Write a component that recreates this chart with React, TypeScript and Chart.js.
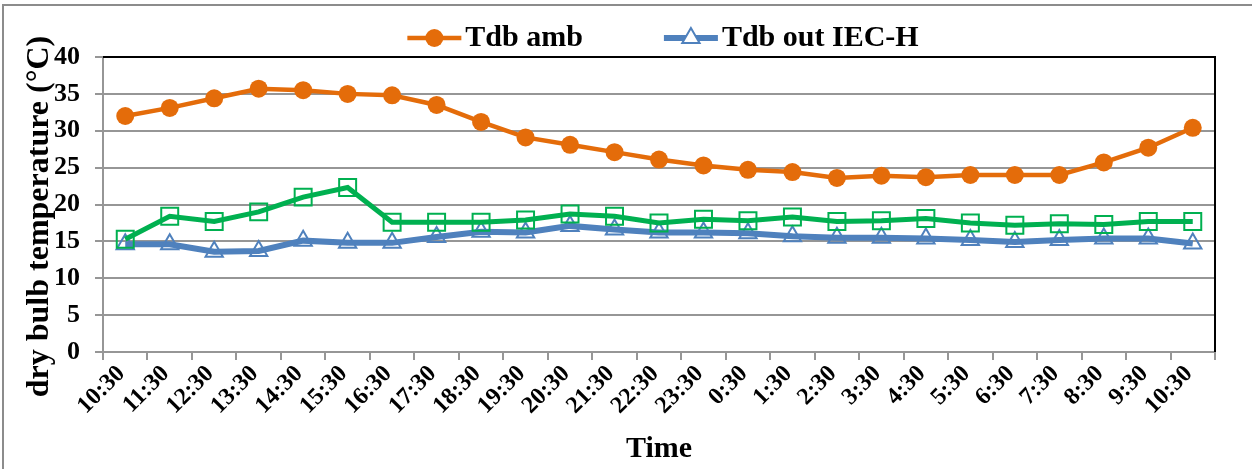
import React, { useEffect, useRef } from "react";
import { Chart, registerables } from "chart.js";

Chart.register(...registerables);

const timeLabels = [
  "10:30", "11:30", "12:30", "13:30", "14:30", "15:30", "16:30", "17:30", "18:30",
  "19:30", "20:30", "21:30", "22:30", "23:30", "0:30", "1:30", "2:30", "3:30",
  "4:30", "5:30", "6:30", "7:30", "8:30", "9:30", "10:30",
];

const tdbAmb = [
  32.0, 33.1, 34.4, 35.7, 35.5, 35.0, 34.8, 33.5, 31.2, 29.1, 28.1, 27.1, 26.1,
  25.3, 24.7, 24.4, 23.6, 23.9, 23.7, 24.0, 24.0, 24.0, 25.7, 27.7, 30.4,
];

const tdbOutGreen = [
  15.3, 18.4, 17.7, 19.0, 21.0, 22.3, 17.6, 17.6, 17.6, 17.9, 18.7, 18.4, 17.5,
  18.0, 17.8, 18.3, 17.7, 17.8, 18.1, 17.5, 17.2, 17.4, 17.3, 17.7, 17.7,
];

const tdbOutIecH = [
  14.6, 14.6, 13.6, 13.7, 15.1, 14.8, 14.8, 15.6, 16.3, 16.2, 17.1, 16.6, 16.2,
  16.2, 16.1, 15.7, 15.5, 15.5, 15.4, 15.2, 14.9, 15.2, 15.4, 15.4, 14.7,
];

const yTicks = [0, 5, 10, 15, 20, 25, 30, 35, 40];

const ORANGE = "#E46C0A";
const GREEN = "#00B050";
const BLUE = "#4F81BD";
const GRID = "#969696";
const SERIF = '"Liberation Serif", "Times New Roman", serif';

const framePlugin = {
  id: "frame",
  beforeDraw(chart: any) {
    const ctx = chart.ctx;
    ctx.save();
    ctx.fillStyle = "#ffffff";
    ctx.fillRect(0, 0, chart.width, chart.height);
    ctx.strokeStyle = "#8c8c8c";
    ctx.lineWidth = 2;
    ctx.beginPath();
    ctx.moveTo(3, chart.height);
    ctx.lineTo(3, 5);
    ctx.lineTo(chart.width, 5);
    ctx.stroke();
    ctx.restore();
  },
  afterDraw(chart: any) {
    const ctx = chart.ctx;
    const ca = chart.chartArea;
    ctx.save();
    ctx.strokeStyle = "#000000";
    ctx.lineWidth = 2;
    ctx.beginPath();
    ctx.moveTo(ca.left, ca.top);
    ctx.lineTo(ca.right, ca.top);
    ctx.lineTo(ca.right, ca.bottom);
    ctx.stroke();
    ctx.restore();
  },
};

const legendPlugin = {
  id: "lineMarkerLegend",
  afterDraw(chart: any) {
    const ctx = chart.ctx;
    const items = chart.data.datasets.filter((d: any) => d.showInLegend);
    ctx.save();
    ctx.font = `bold 30px ${SERIF}`;
    ctx.textBaseline = "middle";
    ctx.textAlign = "left";
    const lineLen = 54;
    const gapText = 4;
    const gapItems = 81;
    const widths = items.map((it: any) => ctx.measureText(it.label).width);
    const total =
      widths.reduce((a: number, w: number) => a + lineLen + gapText + w, 0) +
      gapItems * (items.length - 1);
    const ca = chart.chartArea;
    let x = (ca.left + ca.right) / 2 + 4 - total / 2;
    const y = 38;
    items.forEach((it: any, i: number) => {
      const cx = x + lineLen / 2;
      ctx.strokeStyle = it.borderColor;
      ctx.lineWidth = it.borderWidth;
      ctx.beginPath();
      ctx.moveTo(x, y);
      ctx.lineTo(x + lineLen, y);
      ctx.stroke();
      if (it.pointStyle === "circle") {
        ctx.fillStyle = it.borderColor;
        ctx.beginPath();
        ctx.arc(cx, y, it.pointRadius, 0, Math.PI * 2);
        ctx.fill();
      } else if (it.pointStyle === "triangle") {
        const r = it.pointRadius;
        ctx.lineWidth = it.pointBorderWidth;
        ctx.fillStyle = "#ffffff";
        ctx.beginPath();
        ctx.moveTo(cx, y - r);
        ctx.lineTo(cx + r * Math.sin((2 * Math.PI) / 3), y + r / 2);
        ctx.lineTo(cx - r * Math.sin((2 * Math.PI) / 3), y + r / 2);
        ctx.closePath();
        ctx.fill();
        ctx.stroke();
      }
      ctx.fillStyle = "#000000";
      ctx.fillText(it.label, x + lineLen + gapText, y);
      x += lineLen + gapText + widths[i] + gapItems;
    });
    ctx.restore();
  },
};

export default function App() {
  const canvasRef = useRef<HTMLCanvasElement | null>(null);

  useEffect(() => {
    if (!canvasRef.current) return;
    const chart = new Chart(canvasRef.current, {
      type: "line",
      data: {
        labels: timeLabels,
        datasets: [
          {
            label: "Tdb amb",
            data: tdbAmb,
            borderColor: ORANGE,
            backgroundColor: ORANGE,
            borderWidth: 4.5,
            pointStyle: "circle",
            pointRadius: 9,
            pointBackgroundColor: ORANGE,
            pointBorderColor: ORANGE,
            pointBorderWidth: 0,
            tension: 0,
            showInLegend: true,
          } as any,
          {
            label: "Tdb out",
            data: tdbOutGreen,
            borderColor: GREEN,
            backgroundColor: GREEN,
            borderWidth: 5,
            pointStyle: "rect",
            pointRadius: 12,
            pointBackgroundColor: "rgba(255,255,255,0)",
            pointBorderColor: GREEN,
            pointBorderWidth: 2,
            tension: 0,
            showInLegend: false,
          } as any,
          {
            label: "Tdb out IEC-H",
            data: tdbOutIecH,
            borderColor: BLUE,
            backgroundColor: BLUE,
            borderWidth: 6,
            pointStyle: "triangle",
            pointRadius: 10,
            pointBackgroundColor: "rgba(255,255,255,0)",
            pointBorderColor: BLUE,
            pointBorderWidth: 2,
            tension: 0,
            showInLegend: true,
          } as any,
        ],
      },
      options: {
        animation: false,
        responsive: true,
        maintainAspectRatio: false,
        layout: { padding: { top: 57, right: 37, bottom: 0, left: 0 } },
        plugins: {
          legend: { display: false },
          tooltip: { enabled: false },
        },
        scales: {
          x: {
            type: "category",
            offset: true,
            afterFit: (scale: any) => {
              scale.height = 117;
            },
            grid: {
              display: true,
              drawOnChartArea: false,
              offset: true,
              tickLength: 8,
              color: GRID,
              lineWidth: 2,
            },
            border: { display: true, color: GRID, width: 2 },
            ticks: {
              autoSkip: false,
              maxRotation: 45,
              minRotation: 45,
              color: "#000000",
              padding: 0,
              labelOffset: -4,
              font: { family: SERIF, size: 24, weight: "bold" },
            },
            title: {
              display: true,
              text: "Time",
              color: "#000000",
              font: { family: SERIF, size: 30, weight: "bold" },
              padding: { top: 0, bottom: 2 },
            },
          },
          y: {
            min: 0,
            max: 40,
            afterFit: (scale: any) => {
              scale.width = 103;
            },
            afterBuildTicks: (scale: any) => {
              scale.ticks = yTicks.map((v) => ({ value: v }));
            },
            grid: {
              color: (c: any) => (c.tick && c.tick.value === 40 ? "#000000" : GRID),
              lineWidth: 2,
              tickLength: 8,
              tickColor: GRID,
            },
            border: { display: true, color: GRID, width: 2 },
            ticks: {
              color: "#000000",
              padding: 15,
              font: { family: SERIF, size: 26, weight: "bold" },
            },
            title: {
              display: true,
              text: "dry bulb temperature (°C)   ",
              color: "#000000",
              font: { family: SERIF, size: 32, weight: "bold" },
              padding: { top: 21, bottom: 0 },
            },
          },
        },
      } as any,
      plugins: [framePlugin, legendPlugin],
    });
    return () => chart.destroy();
  }, []);

  return (
    <div style={{ position: "absolute", left: 0, top: 0, width: 1252, height: 469, background: "#fff" }}>
      <canvas ref={canvasRef} />
    </div>
  );
}
